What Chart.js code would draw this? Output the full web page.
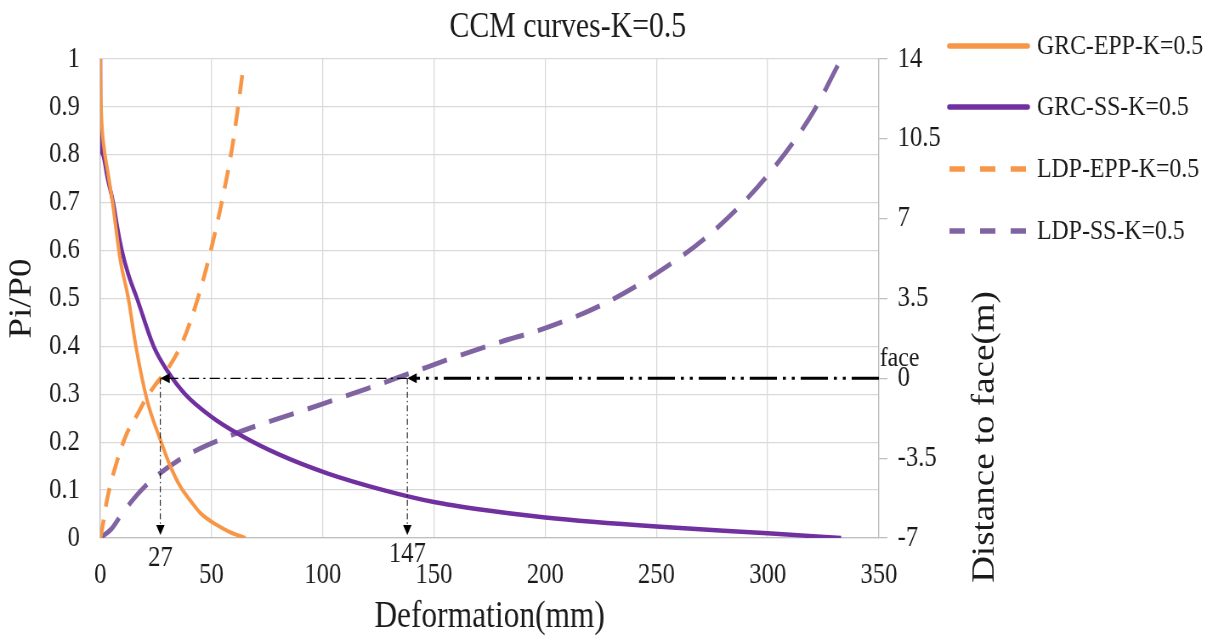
<!DOCTYPE html>
<html><head><meta charset="utf-8">
<script src="https://cdn.jsdelivr.net/npm/chart.js@4.4.0/dist/chart.umd.min.js"></script>
<style>
html,body{margin:0;padding:0;background:#fff;overflow:hidden;}
#wrap{width:1434px;height:640px;transform:scaleX(0.85);transform-origin:0 0;}
canvas{display:block;}
</style></head>
<body><div id="wrap"><canvas id="c" width="1434" height="640"></canvas></div>
<script>
// ---- data ----
const chartTitle = 'CCM curves-K=0.5';
const seriesNames = ['GRC-EPP-K=0.5', 'GRC-SS-K=0.5', 'LDP-EPP-K=0.5', 'LDP-SS-K=0.5'];
const xTitle = 'Deformation(mm)';
const yTitle = 'Pi/P0';
const y2Title = 'Distance to face(m)';

const grcEppX = [0, 0.2, 0.6, 1.5, 3.5, 5.5, 9, 12.6, 16, 21, 27, 31, 36, 41, 45, 52.4, 58, 65.2];
const grcEppY = [1, 0.93, 0.87, 0.82, 0.76, 0.7, 0.58, 0.5, 0.4, 0.288, 0.205, 0.155, 0.107, 0.075, 0.052, 0.027, 0.013, 0];

const grcSsX = [0, 0, 0.3, 1.2, 3.3, 5.8, 7.6, 9.7, 12.6, 16.5, 24, 30, 38.2, 50, 62.9, 80, 102, 127.3, 150, 170, 200, 250, 300, 333];
const grcSsY = [1, 0.9, 0.82, 0.8, 0.75, 0.7, 0.65, 0.6, 0.55, 0.5, 0.4, 0.35, 0.3, 0.253, 0.215, 0.175, 0.135, 0.1, 0.075, 0.06, 0.043, 0.024, 0.01, 0];

const ldpEppX = [0, 1, 3, 7, 12, 16, 21, 25, 30, 37, 43.5, 49.4, 55.4, 59.8, 64.3];
const ldpEppY = [-7, -6.5, -5.33, -3.8, -2.4, -1.7, -0.81, -0.25, 0.37, 1.6, 3.4, 5.5, 8.1, 10.45, 13.65];

const ldpSsX = [0, 5, 10, 20, 35, 60, 90, 120, 140, 160, 180, 200, 225, 250, 275, 300, 320, 333];
const ldpSsY = [-7, -6.6, -5.9, -4.75, -3.6, -2.45, -1.45, -0.45, 0.25, 0.95, 1.6, 2.2, 3.2, 4.6, 6.4, 8.9, 11.6, 14];

const faceLevel = 0;            // right-axis value of the tunnel face
const faceLabel = 'face';
const markX = [27, 138];        // where the arrows meet the deformation axis
const markLabels = ['27', '147'];
const xRange = [0, 350], xStep = 50;
const yRange = [0, 1], yStep = 0.1;
const y2Range = [-7, 14], y2Step = 3.5;

// ---- styles ----
const FONT = "'Liberation Serif', 'Times New Roman', serif";
const TXT = '#1a1a1a';
const ORANGE = '#F79646', PURPLE = '#7030A0', LPURPLE = '#8064A2';
const zip = (xs, ys) => xs.map((v, i) => ({x: v, y: ys[i]}));

const datasets = [
  {label: seriesNames[0], data: zip(grcEppX, grcEppY), borderColor: ORANGE, borderWidth: 4, yAxisID: 'y'},
  {label: seriesNames[1], data: zip(grcSsX, grcSsY), borderColor: PURPLE, borderWidth: 4.5, yAxisID: 'y'},
  {label: seriesNames[2], data: zip(ldpEppX, ldpEppY), borderColor: ORANGE, borderWidth: 4.5, borderDash: [19, 13], yAxisID: 'y2'},
  {label: seriesNames[3], data: zip(ldpSsX, ldpSsY), borderColor: LPURPLE, borderWidth: 5, borderDash: [30, 17], yAxisID: 'y2'}
].map(d => Object.assign({showLine: true, pointRadius: 0, fill: false, cubicInterpolationMode: 'monotone', backgroundColor: d.borderColor}, d));

function arrowHead(ctx, x, y, dir, len, half) {
  ctx.beginPath();
  if (dir === 'left') { ctx.moveTo(x, y); ctx.lineTo(x + len, y - half); ctx.lineTo(x + len, y + half); }
  else { ctx.moveTo(x, y); ctx.lineTo(x - half, y - len); ctx.lineTo(x + half, y - len); }
  ctx.closePath(); ctx.fill();
}

const overlay = {
  id: 'overlay',
  afterDatasetsDraw(chart) {
    const {ctx, scales: {x, y, y2}} = chart;
    const yF = y2.getPixelForValue(faceLevel);
    const xR = x.getPixelForValue(xRange[1]);
    const xA = x.getPixelForValue(markX[1]);
    const xB = x.getPixelForValue(markX[0]);
    const y0 = y.getPixelForValue(0);
    ctx.save();
    ctx.strokeStyle = '#000'; ctx.fillStyle = '#000';
    ctx.lineWidth = 3;
    ctx.setLineDash([32, 7, 3.5, 7, 3.5, 7]);
    ctx.beginPath(); ctx.moveTo(xR, yF); ctx.lineTo(xA + 8, yF); ctx.stroke();
    ctx.lineWidth = 1.3;
    ctx.setLineDash([12, 5, 2.5, 5]);
    ctx.beginPath(); ctx.moveTo(xA, yF); ctx.lineTo(xB + 8, yF); ctx.stroke();
    ctx.lineWidth = 1;
    ctx.setLineDash([6, 3, 1.5, 3]);
    [xA, xB].forEach(px => { ctx.beginPath(); ctx.moveTo(px, yF); ctx.lineTo(px, y0 - 8); ctx.stroke(); });
    ctx.setLineDash([]);
    arrowHead(ctx, xA, yF, 'left', 11, 5);
    arrowHead(ctx, xB, yF, 'left', 11, 5);
    arrowHead(ctx, xA, y0 - 3, 'down', 10, 5);
    arrowHead(ctx, xB, y0 - 3, 'down', 10, 5);
    ctx.font = '29px ' + FONT; ctx.fillStyle = TXT;
    ctx.textAlign = 'center'; ctx.textBaseline = 'alphabetic';
    ctx.fillText(markLabels[0], xB, y0 + 28);
    ctx.fillText(markLabels[1], xA, y0 + 24);
    ctx.textAlign = 'left';
    ctx.font = '28px ' + FONT;
    ctx.fillText(faceLabel, xR + 1, yF - 12);
    ctx.restore();
  },
  afterDraw(chart) {
    const {ctx} = chart;
    ctx.save();
    ctx.fillStyle = TXT;
    ctx.font = '35px ' + FONT; ctx.textAlign = 'center'; ctx.textBaseline = 'alphabetic';
    ctx.fillText(chartTitle, 668, 37);
    ctx.save();
    ctx.translate(1159, 437); ctx.rotate(-Math.PI / 2);
    ctx.font = '37px ' + FONT; ctx.textAlign = 'center'; ctx.textBaseline = 'middle';
    ctx.fillText(y2Title, 0, 0);
    ctx.restore();
    const lx0 = 1117, lx1 = 1209, tx = 1220;
    const ys = [46, 107, 169, 231];
    chart.data.datasets.forEach((ds, i) => {
      ctx.strokeStyle = ds.borderColor; ctx.lineWidth = 5.5; ctx.lineCap = ds.borderDash ? 'butt' : 'round';
      ctx.setLineDash(ds.borderDash ? [18, 18] : []);
      ctx.beginPath(); ctx.moveTo(lx0, ys[i]); ctx.lineTo(lx1, ys[i]); ctx.stroke();
      ctx.setLineDash([]);
      ctx.font = '28px ' + FONT; ctx.textAlign = 'left'; ctx.textBaseline = 'middle';
      ctx.fillStyle = TXT;
      ctx.fillText(ds.label, tx, ys[i] + 1);
    });
    ctx.restore();
  }
};

const tickFont = {family: FONT, size: 29};
new Chart(document.getElementById('c'), {
  type: 'scatter',
  data: {datasets},
  plugins: [overlay],
  options: {
    responsive: false, animation: false, devicePixelRatio: 1,
    layout: {padding: {top: 59, left: 0, right: 0, bottom: 0}},
    plugins: {legend: {display: false}, title: {display: false}, tooltip: {enabled: false}},
    scales: {
      x: {
        type: 'linear', min: xRange[0], max: xRange[1],
        ticks: {stepSize: xStep, font: tickFont, color: TXT, padding: 20},
        grid: {color: '#d9d9d9', lineWidth: 1.3, drawTicks: false},
        border: {color: '#bfbfbf', width: 1.3},
        title: {display: true, text: xTitle, font: {family: FONT, size: 37}, color: TXT, padding: {top: 0, bottom: 1}},
        afterFit: s => { s.height = 102; }
      },
      y: {
        type: 'linear', position: 'left', min: yRange[0], max: yRange[1],
        ticks: {stepSize: yStep, font: tickFont, color: TXT, padding: 24,
                callback: v => String(Math.round(v * 10) / 10)},
        grid: {color: '#d9d9d9', lineWidth: 1.3, drawTicks: false},
        border: {color: '#bfbfbf', width: 1.3},
        title: {display: true, text: yTitle, font: {family: FONT, size: 37}, color: TXT, padding: {top: 4, bottom: 0}},
        afterFit: s => { s.width = 118; }
      },
      y2: {
        type: 'linear', position: 'right', min: y2Range[0], max: y2Range[1],
        ticks: {stepSize: y2Step, font: tickFont, color: TXT, padding: 12},
        grid: {drawOnChartArea: false, drawTicks: true, tickLength: 10, color: '#bfbfbf', lineWidth: 1.3},
        border: {color: '#bfbfbf', width: 1.3},
        afterFit: s => { s.width = 400; }
      }
    }
  }
});
</script>
</body></html>
